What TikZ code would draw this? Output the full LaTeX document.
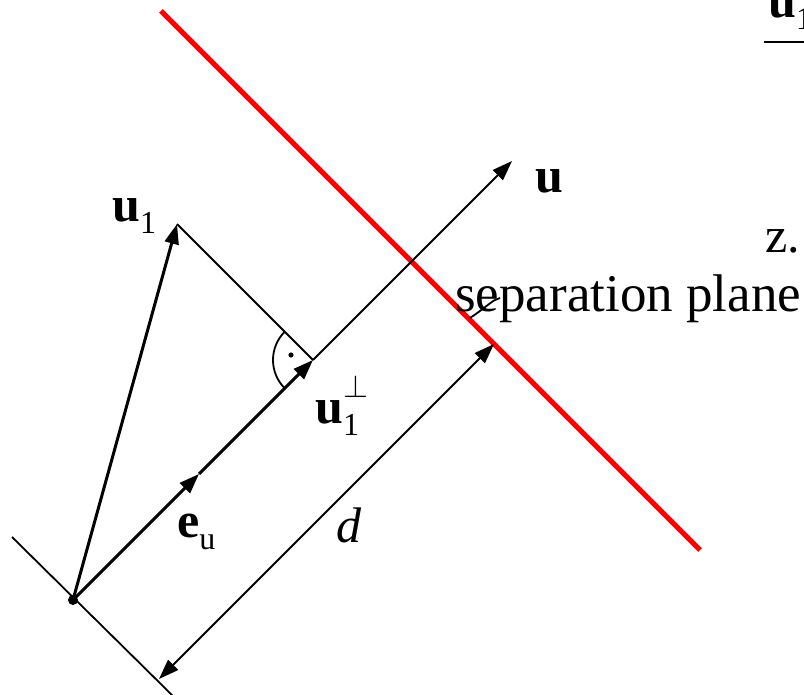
\RequirePackage{fix-cm}
\documentclass[tikz,border=0pt]{standalone}
\usepackage{fontspec}
\setmainfont{Liberation Serif}
\usetikzlibrary{arrows.meta}

\newcommand{\subfnt}{\fontsize{32}{32}\selectfont}
\newcommand{\vsub}[2]{\textbf{#1}\raisebox{-12pt}{\subfnt #2}}
\newcommand{\vsubperp}[2]{\textbf{#1}\rlap{\raisebox{-13pt}{\subfnt #2}}\raisebox{26pt}{\subfnt$\perp$}}

\begin{document}
\begin{tikzpicture}[
  x=1pt, y=-1pt,
  ln/.style  = {line width=1.8pt},
  vec/.style = {line width=3pt},
  arr/.style = {-{Triangle[length=20pt, width=14pt]}},
  dim/.style = {{Triangle[length=20pt, width=14pt]}-{Triangle[length=20pt, width=14pt]}},
  lbl/.style = {inner sep=0pt, anchor=base west, font=\fontsize{50}{60}\selectfont}
]
  \useasboundingbox (0,0) rectangle (804,695);
  \clip (0,0) rectangle (804,695);

  \coordinate (O)    at (73,600);
  \coordinate (base1) at (12,537);
  \coordinate (base2) at (174,697);
  \coordinate (E)    at (199,474);
  \coordinate (F)    at (313,360);
  \coordinate (U)    at (512,161);
  \coordinate (U1)   at (177,224);
  \coordinate (P1)   at (161,11);
  \coordinate (P2)   at (700,550);
  \coordinate (D1)   at (159,679);
  \coordinate (D2)   at (494,344);
  \coordinate (L1)   at (470,318);
  \coordinate (L2)   at (500,298);

  \draw[red, line width=5pt] (P1) -- (P2);

  \draw[ln] (base1) -- (base2);
  \draw[ln, arr] (F) -- (U);
  \draw[ln] (U1) -- (F);
  \draw[ln] (F) ++(135:40) arc[start angle=135, end angle=225, radius=40];
  \fill (291,355) circle[radius=2.6];

  \draw[vec, arr] (O) -- (U1);
  \draw[vec, arr] (O) -- (E);
  \draw[vec, arr] (E) -- (F);
  \fill (O) circle[radius=5];

  \draw[ln, dim] (D1) -- (D2);
  \draw[ln] (L1) .. controls (488,306) and (492,300) .. (L2);

  \node[lbl] (u1lab)  at (112,222) {\vsub{u}{1}};
  \node[lbl] (ulab)   at (535,193) {\textbf{u}};
  \node[lbl] (perp)   at (315,423) {\vsubperp{u}{1}};
  \node[lbl] (eulab)  at (177,537) {\vsub{e}{u}};
  \node[lbl] (dlab)   at (336,542) {\textit{d}};
  \node[lbl, font=\fontsize{53}{60}\selectfont] (sep) at (455,312) {separation plane};
  \node[lbl] (zlab)   at (765,253) {z.};
  \node[lbl] (u1top)  at (768,18) {\vsub{u}{1}};
  \draw[line width=2pt] ([xshift=-4pt, yshift=-24pt]u1top.base west) -- ++(60,0);
\end{tikzpicture}
\end{document}
